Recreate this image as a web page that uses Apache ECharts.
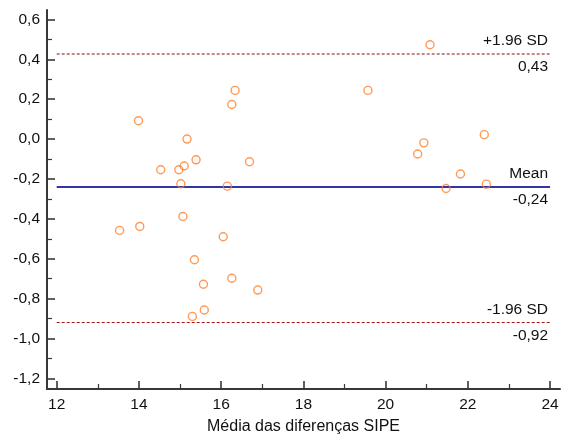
<!DOCTYPE html>
<html>
<head>
<meta charset="utf-8">
<script src="https://cdn.jsdelivr.net/npm/echarts@6/dist/echarts.min.js"></script>
<style>
  html, body { margin: 0; padding: 0; background: #fff; }
  #chart { width: 573px; height: 441px; }
</style>
</head>
<body>
<div id="chart"></div>
<script>
// Bland-Altman style agreement plot

// mean of the two measurements (x) and their difference (y)
const meanValues = [16.34, 16.26, 13.99, 15.17, 15.39, 16.69, 14.53, 14.97, 15.10, 15.02,
                    16.15, 13.53, 14.02, 15.07, 16.05, 15.35, 16.26, 15.57, 16.89, 15.59,
                    15.30, 21.08, 19.57, 22.40, 20.93, 20.78, 21.82, 22.45, 21.47];
const diffValues = [0.244, 0.173, 0.092, 0.000, -0.104, -0.114, -0.154, -0.154, -0.135, -0.224,
                    -0.236, -0.458, -0.438, -0.388, -0.490, -0.605, -0.698, -0.728, -0.757, -0.857,
                    -0.889, 0.473, 0.244, 0.022, -0.019, -0.075, -0.175, -0.226, -0.248];

// limits of agreement and mean difference
const limitNames  = ['+1.96 SD', 'Mean', '-1.96 SD'];
const limitValues = [0.43, -0.24, -0.92];
const limitLabels = ['0,43', '-0,24', '-0,92'];

// ticks
const xMajorTicks = [12, 14, 16, 18, 20, 22, 24];
const xMinorTicks = [13, 15, 17, 19, 21, 23];
const yMajorTicks = [0.6, 0.4, 0.2, 0.0, -0.2, -0.4, -0.6, -0.8, -1.0, -1.2];
const yMinorTicks = [0.5, 0.3, 0.1, -0.1, -0.3, -0.5, -0.7, -0.9, -1.1];

const xTitle = 'Média das diferenças SIPE';

const FONT = 'Liberation Sans, Arial, sans-serif';
const AXIS_COLOR = '#383838';
const TEXT_COLOR = '#111111';
const X_MIN = 11.764, X_MAX = 24.242;
const Y_MIN = -1.253, Y_MAX = 0.647;
const LINE_FROM = 12, LINE_TO = 24;

const limitStyles = [
  { color: '#ad6262', width: 1.5, type: [3, 2] },
  { color: '#3434a6', width: 2.2, type: 'solid' },
  { color: '#a31a1a', width: 1.2, type: [3, 2] }
];

const points = meanValues.map((m, i) => [m, diffValues[i]]);

const markItems = [];
limitValues.forEach((v, i) => {
  const base = { fontFamily: FONT, fontSize: 15.5, color: TEXT_COLOR, distance: [2, 5] };
  markItems.push([
    { coord: [LINE_FROM, v], lineStyle: limitStyles[i],
      label: Object.assign({ show: true, position: 'insideEndTop', formatter: limitNames[i] }, base) },
    { coord: [LINE_TO, v] }
  ]);
  // value printed under the end of the same line
  markItems.push([
    { coord: [LINE_FROM, v], lineStyle: { color: 'rgba(0,0,0,0)', width: 0 },
      label: Object.assign({ show: true, position: 'insideEndBottom', formatter: limitLabels[i] }, base) },
    { coord: [LINE_TO, v] }
  ]);
});

const fmt = v => v.toFixed(1).replace('.', ',');

const chart = echarts.init(document.getElementById('chart'), null, { renderer: 'canvas' });
chart.setOption({
  animation: false,
  backgroundColor: '#ffffff',
  textStyle: { fontFamily: FONT },
  grid: { left: 47, right: 13, top: 10, bottom: 52, containLabel: false },
  xAxis: [
    {
      type: 'value', min: X_MIN, max: X_MAX, position: 'bottom',
      axisLine: { show: true, onZero: false, lineStyle: { color: AXIS_COLOR, width: 2 } },
      axisTick: { show: true, inside: true, length: 8, customValues: xMajorTicks,
                  lineStyle: { color: AXIS_COLOR, width: 1.6 } },
      axisLabel: { show: true, customValues: xMajorTicks, margin: 8, fontSize: 15.5,
                   color: TEXT_COLOR, fontFamily: FONT, formatter: v => String(Math.round(v)) },
      splitLine: { show: false },
      name: xTitle, nameLocation: 'middle', nameGap: 30,
      nameTextStyle: { fontSize: 16, color: TEXT_COLOR, fontFamily: FONT }
    },
    {
      type: 'value', min: X_MIN, max: X_MAX, position: 'bottom',
      axisLine: { show: false, onZero: false },
      axisTick: { show: true, inside: true, length: 5, customValues: xMinorTicks,
                  lineStyle: { color: AXIS_COLOR, width: 1.2 } },
      axisLabel: { show: false },
      splitLine: { show: false }
    }
  ],
  yAxis: [
    {
      type: 'value', min: Y_MIN, max: Y_MAX, position: 'left',
      axisLine: { show: true, onZero: false, lineStyle: { color: AXIS_COLOR, width: 2 } },
      axisTick: { show: true, inside: true, length: 8, customValues: yMajorTicks,
                  lineStyle: { color: AXIS_COLOR, width: 1.6 } },
      axisLabel: { show: true, customValues: yMajorTicks, margin: 7, fontSize: 15.5,
                   color: TEXT_COLOR, fontFamily: FONT, formatter: fmt },
      splitLine: { show: false }
    },
    {
      type: 'value', min: Y_MIN, max: Y_MAX, position: 'left',
      axisLine: { show: false, onZero: false },
      axisTick: { show: true, inside: true, length: 5, customValues: yMinorTicks,
                  lineStyle: { color: AXIS_COLOR, width: 1.2 } },
      axisLabel: { show: false },
      splitLine: { show: false }
    }
  ],
  series: [
    {
      type: 'scatter',
      xAxisIndex: 0, yAxisIndex: 0,
      data: points,
      symbol: 'circle',
      symbolSize: 8,
      itemStyle: { color: 'rgba(255,255,255,0)', borderColor: '#ff7f2a', borderWidth: 1.4 },
      silent: true,
      z: 3,
      markLine: {
        silent: true,
        symbol: ['none', 'none'],
        data: markItems,
        z: 2
      }
    }
  ]
});
</script>
</body>
</html>
